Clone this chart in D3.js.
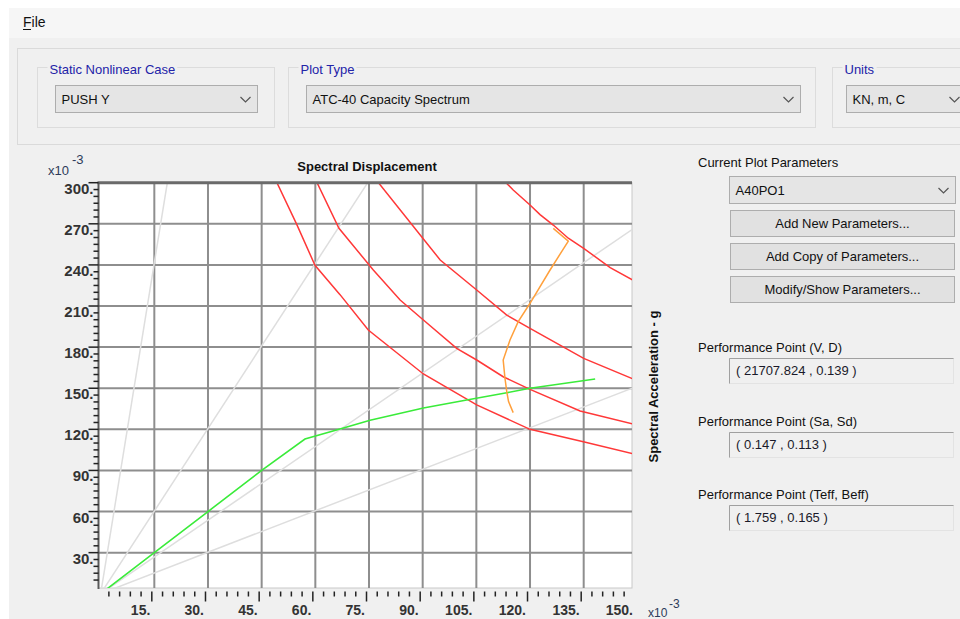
<!DOCTYPE html>
<meta charset="utf-8">
<script src="https://cdn.jsdelivr.net/npm/d3@7/dist/d3.min.js"></script>
<style>
  body { margin: 0; background: #fff; }
  text { font-family: Arial, "Liberation Sans", sans-serif; }
</style>
<div id="my_dataviz"></div>
<script>

// ---- data (x10^-3) ----
var xTickLabels = [15, 30, 45, 60, 75, 90, 105, 120, 135, 150];
var yTickLabels = [30, 60, 90, 120, 150, 180, 210, 240, 270, 300];

// constant period lines (Sa/Sd slope), T = 0.5, 1.0, 1.5, 2.0 s
var periodSlopes = [16.1, 4.02, 1.79, 1.01];

// capacity curve (green)
var capacity = [[0, 0], [15, 30], [30, 60], [45, 90], [57.1, 112.9], [66.9, 120.2], [75.3, 126.6],
  [90.2, 135.6], [102.3, 141.4], [113.5, 146.7], [120, 150.0], [138.2, 156.7]];

// demand spectra (red), one per damping value
var demandA = [[48, 307], [54.8, 269.6], [59.9, 239.7], [66.9, 218.3], [74.8, 192.5], [81.8, 177.9],
  [90.2, 160.4], [105.1, 137.8], [120.0, 120.0], [134.9, 111.0], [149, 102.0]];
var demandB = [[59.2, 307], [66.6, 266.7], [76.2, 236.3], [83.7, 214.4], [90.2, 199.8], [99.5, 179.1],
  [105.1, 170.6], [112.5, 158.4], [120.0, 149.2], [134.0, 133.4], [149, 123.7]];
var demandC = [[75.5, 307], [89.7, 260.6], [94.9, 243.6], [105.1, 221.7], [113.5, 203.4], [120.0, 193.7],
  [127.5, 182.8], [135.0, 171.8], [149, 156.6]];
var demandD = [[111.5, 307], [113.3, 300], [115.3, 294.7], [120.0, 283.7], [122.8, 276.7], [126.5, 269.1],
  [130.7, 259.5], [135.0, 252.1], [142.4, 238.0], [149, 228.5]];

// demand with variable damping (orange)
var variableDemand = [[126.5, 266.7], [130.7, 257.4], [125.6, 236.3], [120.0, 212.0], [116.7, 198.6],
  [114.4, 185.2], [112.5, 170.6], [113.0, 157.3], [113.5, 147.5], [114.0, 140.2], [115.3, 132.2]];

var plotParams = ["Add New Parameters...", "Add Copy of Parameters...", "Modify/Show Parameters..."];
var perfLabels = ["Performance Point (V, D)", "Performance Point (Sa, Sd)", "Performance Point (Teff, Beff)"];
var perfValues = ["( 21707.824 , 0.139 )", "( 0.147 , 0.113 )", "( 1.759 , 0.165 )"];

// ---- window ----
var svg = d3.select("#my_dataviz").append("svg")
  .attr("width", 960)
  .attr("height", 619);

svg.append("rect").attr("x", 9).attr("y", 8).attr("width", 951).attr("height", 611).attr("fill", "#f0f0f0");
svg.append("rect").attr("x", 9).attr("y", 8).attr("width", 951).attr("height", 30).attr("fill", "#f6f6f6");

svg.append("text").attr("x", 23).attr("y", 27).style("font-size", "14px").attr("fill", "#111").text("File");
svg.append("line").attr("x1", 23).attr("x2", 31).attr("y1", 29.5).attr("y2", 29.5)
  .attr("stroke", "#111").attr("stroke-width", 1);

// top panel
svg.append("rect").attr("x", 17.5).attr("y", 48.5).attr("width", 960).attr("height", 96)
  .attr("fill", "none").attr("stroke", "#dadada");

function chevron(cx, cy) {
  svg.append("path")
    .attr("d", "M" + (cx - 5) + "," + (cy - 2.5) + "L" + cx + "," + (cy + 2.5) + "L" + (cx + 5) + "," + (cy - 2.5))
    .attr("fill", "none").attr("stroke", "#555").attr("stroke-width", 1.2);
}

function groupBox(x, y, w, h, title) {
  svg.append("rect").attr("x", x).attr("y", y).attr("width", w).attr("height", h)
    .attr("fill", "none").attr("stroke", "#dcdcdc");
  var t = svg.append("text").attr("x", x + 12).attr("y", y + 6)
    .style("font-size", "13px").attr("fill", "#2323a8").text(title);
  var bb = t.node().getBBox();
  svg.insert("rect", "text:last-of-type").attr("x", bb.x - 2).attr("y", y - 2)
    .attr("width", bb.width + 4).attr("height", 4).attr("fill", "#f0f0f0");
}

function combo(x, y, w, label) {
  svg.append("rect").attr("x", x).attr("y", y).attr("width", w).attr("height", 27)
    .attr("fill", "#e5e5e5").attr("stroke", "#adadad");
  svg.append("text").attr("x", x + 6).attr("y", y + 18.5).style("font-size", "13px")
    .attr("fill", "#111").text(label);
  chevron(x + w - 12, y + 14);
}

groupBox(37.5, 67.5, 237, 60, "Static Nonlinear Case");
groupBox(288.5, 67.5, 527, 60, "Plot Type");
groupBox(832.5, 67.5, 140, 60, "Units");
combo(55.5, 85.5, 202, "PUSH Y");
combo(306.5, 85.5, 494, "ATC-40 Capacity Spectrum");
combo(846.5, 85.5, 120, "KN, m, C");

// ---- plot ----
var margin = {top: 182.7, left: 98.5},
  width = 632 - margin.left,
  height = 588 - margin.top;

var xScale = d3.scaleLinear().domain([-0.6, 148.5]).range([margin.left, margin.left + width]);
var yScale = d3.scaleLinear().domain([4.2, 300]).range([margin.top + height, margin.top]);

svg.append("defs").append("clipPath").attr("id", "plotclip")
  .append("rect").attr("x", margin.left).attr("y", margin.top).attr("width", width).attr("height", height);

svg.append("rect").attr("x", margin.left).attr("y", margin.top).attr("width", width).attr("height", height)
  .attr("fill", "#fff").attr("stroke", "#c8c8c8");

var plot = svg.append("g").attr("clip-path", "url(#plotclip)");

// grid
plot.selectAll(".vgrid").data(xTickLabels.filter(function(d) { return d < 148.5; })).enter()
  .append("line")
  .attr("x1", function(d) { return xScale(d); }).attr("x2", function(d) { return xScale(d); })
  .attr("y1", margin.top).attr("y2", margin.top + height)
  .attr("stroke", "#8e8e8e").attr("stroke-width", 2);
plot.selectAll(".hgrid").data(yTickLabels.filter(function(d) { return d < 300; })).enter()
  .append("line")
  .attr("y1", function(d) { return yScale(d); }).attr("y2", function(d) { return yScale(d); })
  .attr("x1", margin.left).attr("x2", margin.left + width)
  .attr("stroke", "#8e8e8e").attr("stroke-width", 2);

// period lines
plot.selectAll(".period").data(periodSlopes).enter()
  .append("line")
  .attr("x1", xScale(0)).attr("y1", yScale(0))
  .attr("x2", function(d) { return xScale(320 / d); })
  .attr("y2", yScale(320))
  .attr("stroke", "#dedede").attr("stroke-width", 1.5);

var line = d3.line().x(function(d) { return xScale(d[0]); }).y(function(d) { return yScale(d[1]); });

[demandA, demandB, demandC, demandD].forEach(function(s) {
  plot.append("path").attr("d", line(s)).attr("fill", "none")
    .attr("stroke", "#ff3838").attr("stroke-width", 1.5);
});
plot.append("path").attr("d", line(capacity)).attr("fill", "none")
  .attr("stroke", "#3aeb3a").attr("stroke-width", 1.6);
plot.append("path").attr("d", line(variableDemand)).attr("fill", "none")
  .attr("stroke", "#ffa03c").attr("stroke-width", 1.5);

// frame
svg.append("line").attr("x1", margin.left - 1).attr("x2", margin.left + width)
  .attr("y1", margin.top).attr("y2", margin.top).attr("stroke", "#6a6a6a").attr("stroke-width", 3);
svg.append("line").attr("x1", margin.left).attr("x2", margin.left)
  .attr("y1", margin.top).attr("y2", margin.top + height + 1).attr("stroke", "#5a5a5a").attr("stroke-width", 2);

// y ticks
var yMinor = d3.range(10, 301, 5);
svg.selectAll(".ytick").data(yMinor).enter().append("line")
  .attr("x1", function(d) { return d % 30 == 0 ? margin.left - 10 : margin.left - 5; })
  .attr("x2", margin.left)
  .attr("y1", function(d) { return yScale(d); }).attr("y2", function(d) { return yScale(d); })
  .attr("stroke", "#222").attr("stroke-width", 1.5);
svg.selectAll(".ylab").data(yTickLabels).enter().append("text")
  .attr("x", 93.5).attr("y", function(d) { return yScale(d) + 11; })
  .attr("text-anchor", "end").style("font-size", "15px").style("font-weight", "bold")
  .attr("fill", "#333").text(function(d) { return d + "."; });

// x ticks (drawn a little left of the grid, as in the original)
var xMinor = d3.range(3, 148, 3);
svg.selectAll(".xtick").data(xMinor).enter().append("line")
  .attr("x1", function(d) { return xScale(d) - 2.5; }).attr("x2", function(d) { return xScale(d) - 2.5; })
  .attr("y1", 591.5)
  .attr("y2", function(d) { return d % 15 == 0 ? 601.5 : 596.5; })
  .attr("stroke", "#222").attr("stroke-width", 1.5);
svg.selectAll(".xlab").data(xTickLabels).enter().append("text")
  .attr("x", function(d) { return Math.min(xScale(d) - 4, 633); }).attr("y", 615)
  .attr("text-anchor", "end").style("font-size", "14px").style("font-weight", "bold")
  .attr("fill", "#333").text(function(d) { return d + "."; });

// titles
svg.append("text").attr("x", 367).attr("y", 171).attr("text-anchor", "middle")
  .style("font-size", "13px").style("font-weight", "bold").attr("fill", "#111").text("Spectral Displacement");
svg.append("text").attr("transform", "translate(658,386.5) rotate(-90)").attr("text-anchor", "middle")
  .style("font-size", "13px").style("font-weight", "bold").attr("fill", "#111").text("Spectral Acceleration - g");

svg.append("text").attr("x", 48).attr("y", 175).style("font-size", "13px").attr("fill", "#2d3b5a").text("x10");
svg.append("text").attr("x", 72).attr("y", 164).style("font-size", "13px").attr("fill", "#2d3b5a").text("-3");
svg.append("text").attr("x", 648).attr("y", 617).style("font-size", "12px").attr("fill", "#2d3b5a").text("x10");
svg.append("text").attr("x", 669).attr("y", 608).style("font-size", "12px").attr("fill", "#2d3b5a").text("-3");

// ---- right panel ----
svg.append("text").attr("x", 698).attr("y", 167).style("font-size", "13px").attr("fill", "#111")
  .text("Current Plot Parameters");
combo(729.5, 176.5, 226, "A40PO1");

plotParams.forEach(function(p, i) {
  var y = 210.5 + i * 33;
  svg.append("rect").attr("x", 730.5).attr("y", y).attr("width", 224).attr("height", 26)
    .attr("fill", "#e1e1e1").attr("stroke", "#adadad");
  svg.append("text").attr("x", 842.5).attr("y", y + 17.5).attr("text-anchor", "middle")
    .style("font-size", "13px").attr("fill", "#111").text(p);
});

var perfY = [358.5, 432.5, 505.5];
perfLabels.forEach(function(p, i) {
  var y = perfY[i];
  svg.append("text").attr("x", 698).attr("y", y - 7).style("font-size", "13px").attr("fill", "#111").text(p);
  svg.append("rect").attr("x", 729.5).attr("y", y).attr("width", 224).attr("height", 25)
    .attr("fill", "#f0f0f0").attr("stroke", "#e3e3e3");
  svg.append("path").attr("d", "M729.5," + (y + 25) + "V" + y + "H953.5")
    .attr("fill", "none").attr("stroke", "#a0a0a0");
  svg.append("text").attr("x", 736).attr("y", y + 16.5).style("font-size", "13px")
    .attr("fill", "#1a1a2a").text(perfValues[i]);
});

</script>
